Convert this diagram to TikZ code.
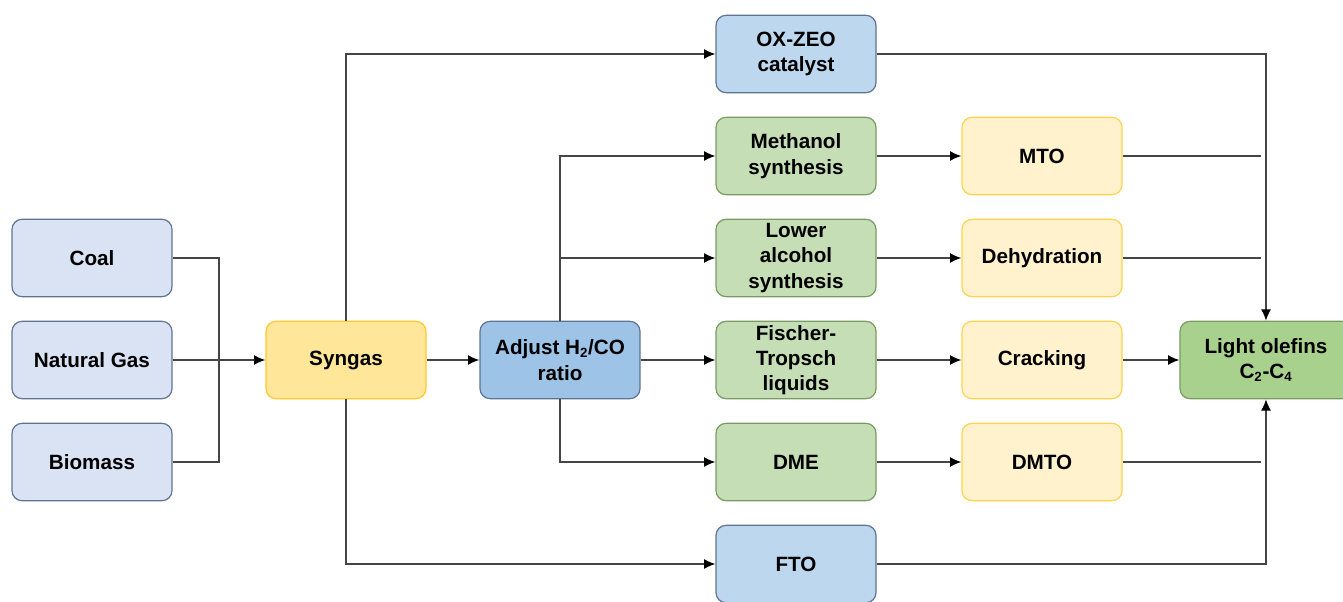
\documentclass[tikz,border=0pt]{standalone}
\usepackage{fontspec}
\setmainfont{Liberation Sans}
\usetikzlibrary{arrows.meta,calc}
\definecolor{srcfill}{HTML}{DAE3F3}
\definecolor{bluefill}{HTML}{BDD7EE}
\definecolor{adjfill}{HTML}{9DC3E6}
\definecolor{bluedraw}{HTML}{5F7394}
\definecolor{greenfill}{HTML}{C5DEB5}
\definecolor{greendraw}{HTML}{7A9A62}
\definecolor{darkgreenfill}{HTML}{A9D18E}
\definecolor{orangefill}{HTML}{FFF2CC}
\definecolor{orangedraw}{HTML}{FFD34D}
\definecolor{synfill}{HTML}{FFE699}
\definecolor{syndraw}{HTML}{FFC82E}
\definecolor{wire}{HTML}{454545}
\newcommand{\sbs}[1]{\textsubscript{\fontsize{10}{10}\selectfont #1}}
\begin{document}
\begin{tikzpicture}[x=0.75pt,y=-0.75pt,
  box/.style={rectangle,rounded corners=7.5pt,line width=0.9pt,
    minimum width=120pt,minimum height=58pt,align=center,inner sep=2pt,
    font=\fontsize{15.5}{19}\selectfont\bfseries},
  srcbox/.style={box,fill=srcfill,draw=bluedraw},
  bluebox/.style={box,fill=bluefill,draw=bluedraw},
  adjbox/.style={box,fill=adjfill,draw=bluedraw},
  greenbox/.style={box,fill=greenfill,draw=greendraw},
  orangebox/.style={box,fill=orangefill,draw=orangedraw},
  synbox/.style={box,fill=synfill,draw=syndraw},
  olefinbox/.style={box,fill=darkgreenfill,draw=greendraw,minimum width=129pt},
  wireline/.style={draw=wire,line width=1.1pt},
  flow/.style={wireline,-{Latex[length=8.5pt,width=7.5pt,color=black]}}]
\useasboundingbox (0,0) rectangle (1343,602);

% feedstocks
\node[srcbox] (coal) at (92,258) {Coal};
\node[srcbox] (gas)  at (92,360) {Natural Gas};
\node[srcbox] (bio)  at (92,462) {Biomass};

% syngas and ratio adjustment
\node[synbox] (syn) at (346,360) {Syngas};
\node[adjbox] (adj) at (560,360) {Adjust H\sbs{2}/CO\\ratio};

% conversion routes
\node[bluebox]  (ox)   at (796,54)  {OX-ZEO\\catalyst};
\node[greenbox] (meth) at (796,156) {Methanol\\synthesis};
\node[greenbox] (low)  at (796,258) {Lower\\alcohol\\synthesis};
\node[greenbox] (ft)   at (796,360) {Fischer-\\Tropsch\\liquids};
\node[greenbox] (dme)  at (796,462) {DME};
\node[bluebox]  (fto)  at (796,564) {FTO};

\node[orangebox] (mto)   at (1042,156) {MTO};
\node[orangebox] (dehy)  at (1042,258) {Dehydration};
\node[orangebox] (crack) at (1042,360) {Cracking};
\node[orangebox] (dmto)  at (1042,462) {DMTO};

\node[olefinbox] (lo) at (1266,360) {Light olefins\\C\sbs{2}-C\sbs{4}};

% feedstock merge
\coordinate (merge) at (219,360);
\draw[wireline] (coal.east) -| (merge);
\draw[wireline] (bio.east) -| (merge);
\draw[flow] (gas.east) -- (syn.west);

% syngas branches
\draw[flow] (syn.north) |- (ox.west);
\draw[flow] (syn.south) |- (fto.west);
\draw[flow] (syn.east) -- (adj.west);

% ratio-adjusted branches
\draw[flow] (adj.north) |- (meth.west);
\draw[flow] (adj.north |- low.west) -- (low.west);
\draw[flow] (adj.east) -- (ft.west);
\draw[flow] (adj.south) |- (dme.west);

% second stage
\draw[flow] (meth.east) -- (mto.west);
\draw[flow] (low.east) -- (dehy.west);
\draw[flow] (ft.east) -- (crack.west);
\draw[flow] (dme.east) -- (dmto.west);

% into light olefins
\draw[flow] (crack.east) -- (lo.west);
\draw[flow] (ox.east) -| (lo.north);
\draw[flow] (fto.east) -| (lo.south);
\coordinate (e1) at (1261,156);
\coordinate (e2) at (1261,258);
\coordinate (e3) at (1261,462);
\draw[wireline] (mto.east) -- (e1);
\draw[wireline] (dehy.east) -- (e2);
\draw[wireline] (dmto.east) -- (e3);
\end{tikzpicture}
\end{document}
